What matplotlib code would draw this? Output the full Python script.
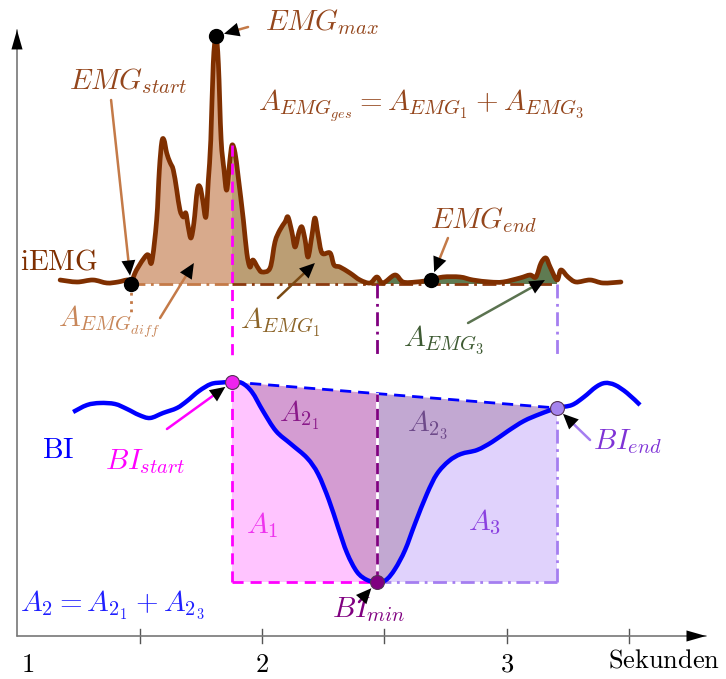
import matplotlib.pyplot as plt
import numpy as np
from matplotlib.path import Path
from matplotlib.patches import PathPatch, Rectangle, Polygon

plt.rcParams['mathtext.fontset'] = 'cm'

# iEMG trace: time (s) and amplitude above the baseline
emg_t = [1.176, 1.245, 1.310, 1.367, 1.412, 1.453, 1.465, 1.480, 1.495, 1.522,
         1.536, 1.550, 1.570, 1.581, 1.591, 1.600, 1.611, 1.624, 1.638, 1.652,
         1.665, 1.679, 1.689, 1.699, 1.710, 1.722, 1.736, 1.747, 1.758, 1.771,
         1.781, 1.791, 1.801, 1.812, 1.822, 1.833, 1.845, 1.856, 1.869, 1.878,
         1.890, 1.903, 1.924, 1.938, 1.951, 1.963, 1.984, 2.000, 2.033, 2.053,
         2.073, 2.094, 2.106, 2.122, 2.135, 2.151, 2.163, 2.176, 2.188, 2.204,
         2.216, 2.229, 2.245, 2.278, 2.294, 2.318, 2.359, 2.400, 2.441, 2.469,
         2.494, 2.543, 2.576, 2.629, 2.690, 2.739, 2.808, 2.861, 2.931, 2.984,
         3.053, 3.094, 3.118, 3.139, 3.159, 3.176, 3.204, 3.220, 3.249, 3.282,
         3.339, 3.392, 3.465]
emg_a = [0.04, 0.02, 0.04, 0.01, 0.02, 0.04, 0.00, 0.10, 0.17, 0.27,
         0.29, 0.22, 0.64, 1.14, 1.42, 1.44, 1.31, 1.22, 1.14, 0.94,
         0.74, 0.67, 0.71, 0.57, 0.46, 0.61, 0.94, 0.97, 0.84, 0.67,
         1.04, 1.44, 2.20, 2.48, 2.20, 1.45, 1.14, 0.94, 1.24, 1.39,
         1.31, 1.07, 0.64, 0.31, 0.17, 0.24, 0.16, 0.12, 0.16, 0.42,
         0.54, 0.62, 0.67, 0.52, 0.37, 0.52, 0.57, 0.44, 0.27, 0.49,
         0.66, 0.49, 0.31, 0.31, 0.19, 0.17, 0.11, 0.04, 0.01, 0.07,
         0.01, 0.09, 0.02, 0.02, 0.04, 0.07, 0.07, 0.04, 0.02, 0.02,
         0.06, 0.09, 0.07, 0.21, 0.26, 0.17, 0.04, 0.14, 0.07, 0.02,
         0.04, 0.01, 0.02]
emg_base = 3.52
emg_start_t, emg_end_t = 1.465, 2.690

# BI trace
bi_t = [1.229, 1.286, 1.339, 1.400, 1.449, 1.498, 1.543, 1.596, 1.653, 1.694,
        1.743, 1.792, 1.837, 1.878, 1.918, 1.959, 2.004, 2.057, 2.118, 2.184,
        2.229, 2.273, 2.310, 2.347, 2.388, 2.429, 2.469, 2.506, 2.543, 2.584,
        2.624, 2.673, 2.714, 2.763, 2.812, 2.878, 2.939, 3.004, 3.069, 3.135,
        3.204, 3.265, 3.314, 3.363, 3.400, 3.441, 3.490, 3.543]
bi_y = [2.24, 2.31, 2.33, 2.32, 2.27, 2.21, 2.18, 2.23, 2.28, 2.35,
        2.45, 2.52, 2.535, 2.54, 2.53, 2.44, 2.25, 2.05, 1.92, 1.78,
        1.62, 1.36, 1.09, 0.83, 0.64, 0.56, 0.54, 0.56, 0.67, 0.86,
        1.12, 1.42, 1.62, 1.75, 1.82, 1.86, 1.94, 2.05, 2.15, 2.22,
        2.28, 2.31, 2.39, 2.49, 2.53, 2.51, 2.43, 2.31]
bi_start_t, bi_end_t = 1.878, 3.204

tick_pos = [1.5, 2, 2.5, 3, 3.5]
tick_lbl = {1.0: '1', 2.0: '2', 3.0: '3'}

emg_t = np.array(emg_t)
emg_y = emg_base + np.array(emg_a)
bi_t = np.array(bi_t)
bi_y = np.array(bi_y)

i_emg_start = int(np.argmin(abs(emg_t - emg_start_t)))
i_emg_end = int(np.argmin(abs(emg_t - emg_end_t)))
i_emg_max = int(np.argmax(emg_y))
i_bi_start = int(np.argmin(abs(bi_t - bi_start_t)))
i_bi_end = int(np.argmin(abs(bi_t - bi_end_t)))
i_bi_min = int(np.argmin(bi_y))

ts, tm, te = bi_t[i_bi_start], bi_t[i_bi_min], bi_t[i_bi_end]
ys, ym, ye = bi_y[i_bi_start], bi_y[i_bi_min], bi_y[i_bi_end]


def chord(t):
    return ys + (ye - ys) * (t - ts) / (te - ts)


def smooth_path(x, y):
    # Catmull-Rom through the read points, drawn as cubic Bezier segments
    p = np.column_stack([x, y])
    verts, codes = [p[0]], [Path.MOVETO]
    for i in range(len(p) - 1):
        p0 = p[i - 1] if i > 0 else p[i]
        p3 = p[i + 2] if i + 2 < len(p) else p[i + 1]
        verts += [p[i] + (p[i + 1] - p0) / 6, p[i + 1] - (p3 - p[i]) / 6, p[i + 1]]
        codes += [Path.CURVE4] * 3
    return Path(np.array(verts), codes)


fig = plt.figure(figsize=(7.26, 6.79), dpi=100)
ax = fig.add_axes([0, 0, 1, 1])
ax.set_xlim(0.9306, 3.8939)
ax.set_ylim(-0.43, 6.36)
ax.axis('off')


def under_fill(path, base, x0, x1, color):
    v = np.vstack([path.vertices, [[path.vertices[-1, 0], base],
                                   [path.vertices[0, 0], base], [0, 0]]])
    c = list(path.codes) + [Path.LINETO, Path.LINETO, Path.CLOSEPOLY]
    patch = PathPatch(Path(v, c), fc=color, lw=0, zorder=1)
    ax.add_patch(patch)
    patch.set_clip_path(Rectangle((x0, -10), x1 - x0, 20, transform=ax.transData))


# axes with arrows
axis_head = '-|>,head_length=0.7,head_width=0.2'
for tail, tip, near in (((1.0, 0), (3.812, 0), (3.76, 0)),
                        ((1.0, 0), (1.0, 6.06), (1.0, 5.9))):
    ax.annotate('', xy=tip, xytext=tail,
                arrowprops=dict(arrowstyle='-', color='#777777', lw=1.2,
                                shrinkA=0, shrinkB=0))
    ax.annotate('', xy=tip, xytext=near,
                arrowprops=dict(arrowstyle=axis_head, mutation_scale=20,
                                color='k', lw=0, shrinkA=0, shrinkB=0))
for tp in tick_pos:
    ax.plot([tp, tp], [-0.07, 0.07], color='#555555', lw=1)
for tp, lb in tick_lbl.items():
    ax.text(tp + (0.045 if tp == 1.0 else 0), -0.29, '$' + lb + '$', fontsize=19,
            ha='center', va='center')
ax.text(3.869, -0.24, r'$\mathrm{Sekunden}$', fontsize=19, ha='right', va='center')

# ---- iEMG part ----
emg_path = smooth_path(emg_t, emg_y)
under_fill(emg_path, emg_base, emg_t[i_emg_start], ts, '#d8aa8c')
under_fill(emg_path, emg_base, ts, tm, '#bb9e74')
under_fill(emg_path, emg_base, tm, te, '#5f7b52')

dashdot = (0, (5, 2, 1, 2))
ax.plot([emg_t[i_emg_start], ts], [emg_base, emg_base], color='#c47a48', lw=2,
        ls=dashdot, zorder=2)
ax.plot([ts, te], [emg_base, emg_base], color='#8b3a0f', lw=2, ls=dashdot, zorder=2)
ax.plot([emg_t[i_emg_start]] * 2, [emg_base, 3.23], color='#c47a48', lw=2,
        ls=(0, (1, 2)), zorder=2)

ax.add_patch(PathPatch(emg_path, fc='none', ec='#7f2f00', lw=3.4,
                       joinstyle='round', capstyle='round', zorder=3))

# guide lines between the two traces
dashed = (0, (4, 2.5))
ax.plot([ts, ts], [emg_y[np.argmin(abs(emg_t - ts))], 2.81], color='#ff00ff', lw=2,
        ls=dashed, zorder=4)
ax.plot([tm, tm], [emg_base, 2.81], color='#800080', lw=2, ls=dashdot, zorder=2)
ax.plot([te, te], [emg_base, 2.81], color='#a57ef0', lw=2, ls=dashdot, zorder=2)

# ---- BI part ----
bi_path = smooth_path(bi_t, bi_y)
ax.add_patch(Polygon([(ts, ym), (ts, ys), (tm, chord(tm)), (tm, ym)],
                     fc='#d49cd2', lw=0, zorder=1))
ax.add_patch(Polygon([(tm, ym), (tm, chord(tm)), (te, ye), (te, ym)],
                     fc='#c2a8d2', lw=0, zorder=1))
under_fill(bi_path, ym, ts, tm, '#ffc4ff')
under_fill(bi_path, ym, tm, te, '#e0d2fc')

ax.plot([ts, te], [ys, ye], color='#0000ff', lw=2, ls=dashed, zorder=2)
ax.plot([ts, ts], [ym, ys], color='#ff00ff', lw=2, ls=dashed, zorder=2)
ax.plot([ts, tm], [ym, ym], color='#ff00ff', lw=2, ls=dashed, zorder=2)
ax.plot([tm, tm], [ym, chord(tm)], color='white', lw=2, zorder=2)
ax.plot([tm, tm], [ym, chord(tm)], color='#800080', lw=2, ls=dashed, zorder=2)
ax.plot([te, te], [ym, ye], color='#a57ef0', lw=2, ls=dashdot, zorder=2)
ax.plot([tm, te], [ym, ym], color='#a57ef0', lw=2, ls=dashdot, zorder=2)

ax.add_patch(PathPatch(bi_path, fc='none', ec='#0000ff', lw=3.2,
                       joinstyle='round', capstyle='butt', zorder=3))

# markers
for i in (i_emg_start, i_emg_max, i_emg_end):
    ax.plot(emg_t[i], emg_y[i], 'o', color='k', ms=10, zorder=5)
for i, c in ((i_bi_start, '#ee22ee'), (i_bi_min, '#800080'), (i_bi_end, '#a584ee')):
    ax.plot(bi_t[i], bi_y[i], 'o', mfc=c, mec='#553355', mew=0.8, ms=10, zorder=5)


def arrow(tail, tip, color, shrink=0):
    ax.annotate('', xy=tip, xytext=tail,
                arrowprops=dict(arrowstyle='-', color=color, lw=1.8,
                                shrinkA=0, shrinkB=shrink + 3), zorder=6)
    ax.annotate('', xy=tip, xytext=tail,
                arrowprops=dict(arrowstyle='-|>,head_length=0.55,head_width=0.25',
                                mutation_scale=20, color='k', lw=0,
                                shrinkA=0, shrinkB=shrink), zorder=6)


brown = '#94461c'
light_brown = '#c47a48'
arrow((1.943, 6.09), (emg_t[i_emg_max], emg_y[i_emg_max]), light_brown, 6)
arrow((1.384, 5.36), (emg_t[i_emg_start], emg_y[i_emg_start]), light_brown, 6)
arrow((2.759, 3.98), (emg_t[i_emg_end], emg_y[i_emg_end]), light_brown, 6)
arrow((1.584, 3.18), (1.722, 3.73), light_brown)
arrow((2.065, 3.38), (2.216, 3.73), '#7a4a14')
arrow((2.841, 3.13), (3.155, 3.56), '#5b7350')
arrow((1.612, 2.07), (ts, ys), '#ff00ff', 6)
arrow((3.339, 1.96), (te, ye), '#a57ef0', 6)
arrow((2.396, 0.34), (tm, ym), '#800080', 6)

# labels
fs = 21
ax.text(2.012, 6.14, r'$EMG_{max}$', color=brown, fontsize=fs, va='center')
ax.text(1.453, 5.55, r'$EMG_{start}$', color=brown, fontsize=fs, ha='center', va='center')
ax.text(1.984, 5.30, r'$A_{EMG_{ges}} = A_{EMG_1} + A_{EMG_3}$', color=brown,
        fontsize=fs, va='center')
ax.text(1.012, 3.74, r'$\mathrm{iEMG}$', color='#7f2f00', fontsize=fs, va='center')
ax.text(1.167, 3.14, r'$A_{EMG_{diff}}$', color='#c8875a', fontsize=fs, va='center')
ax.text(1.910, 3.14, r'$A_{EMG_1}$', color='#8c6428', fontsize=fs, va='center')
ax.text(2.686, 4.16, r'$EMG_{end}$', color=brown, fontsize=fs, va='center')
ax.text(2.576, 2.96, r'$A_{EMG_3}$', color='#3d5a32', fontsize=fs, va='center')

ax.text(1.102, 1.86, r'$\mathrm{BI}$', color='#0000ff', fontsize=fs, va='center')
ax.text(1.359, 1.74, r'$BI_{start}$', color='#ff00ff', fontsize=fs, va='center')
ax.text(3.351, 1.94, r'$BI_{end}$', color='#7f33d6', fontsize=fs, va='center')
ax.text(2.286, 0.26, r'$BI_{min}$', color='#800080', fontsize=fs, va='center')
ax.text(2.0, 1.11, r'$A_1$', color='#ee33ee', fontsize=fs, ha='center', va='center')
ax.text(2.155, 2.21, r'$A_{2_1}$', color='#8a1a8a', fontsize=fs, ha='center', va='center')
ax.text(2.678, 2.11, r'$A_{2_3}$', color='#6e4a8a', fontsize=fs, ha='center', va='center')
ax.text(2.910, 1.14, r'$A_3$', color='#8a40e0', fontsize=fs, ha='center', va='center')
ax.text(1.012, 0.31, r'$A_2 = A_{2_1} + A_{2_3}$', color='#2020ff', fontsize=fs, va='center')

fig.savefig('out.png', dpi=100)
